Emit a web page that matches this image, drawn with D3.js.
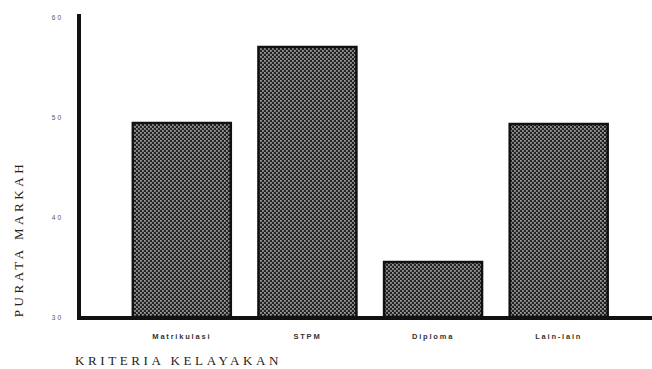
<!DOCTYPE html>
<html><head><meta charset="utf-8">
<script src="https://cdn.jsdelivr.net/npm/d3@7"></script>
<style>body{margin:0;background:#fff;}svg{display:block;}</style>
</head><body>
<script>
const categories = ["Matrikulasi", "STPM", "Diploma", "Lain-lain"];
const values = [49.4, 57.0, 35.5, 49.3];
const yTicks = [30, 40, 50, 60];
const yTitle = "PURATA MARKAH";
const xTitle = "KRITERIA KELAYAKAN";

const W = 652, H = 369;
const svg = d3.select("body").append("svg").attr("width", W).attr("height", H);

const defs = svg.append("defs");
const pat = defs.append("pattern").attr("id","dots").attr("patternUnits","userSpaceOnUse")
  .attr("width",4).attr("height",4);
pat.append("rect").attr("width",4).attr("height",4).attr("fill","#222");
pat.append("rect").attr("x",0).attr("y",0).attr("width",1.8).attr("height",1.8).attr("fill","#999");
pat.append("rect").attr("x",2).attr("y",2).attr("width",1.8).attr("height",1.8).attr("fill","#999");

const y = d3.scaleLinear().domain([30, 60]).range([317, 17]);
const x = d3.scaleBand().domain(categories).range([119, 621.5]).paddingInner(0.22).paddingOuter(0.11);

// bars
svg.selectAll("rect.bar").data(categories).join("rect")
  .attr("class","bar")
  .attr("x", d => x(d))
  .attr("y", (d,i) => y(values[i]))
  .attr("width", x.bandwidth())
  .attr("height", (d,i) => y(30) - y(values[i]))
  .attr("fill","url(#dots)")
  .attr("stroke","#111").attr("stroke-width",2.5);

// axes lines
svg.append("line").attr("x1",79).attr("x2",79).attr("y1",14).attr("y2",320)
  .attr("stroke","#111").attr("stroke-width",4);
svg.append("line").attr("x1",77).attr("x2",652).attr("y1",318).attr("y2",318)
  .attr("stroke","#111").attr("stroke-width",4);

// y tick labels
const yAxis = d3.axisLeft(y).tickValues(yTicks).tickSize(0).tickPadding(0);
const ga = svg.append("g").attr("transform","translate(63,0)").call(yAxis);
ga.select(".domain").remove();
ga.selectAll("text").attr("font-family","Liberation Sans, Arial, sans-serif")
  .attr("font-size",6.5).attr("letter-spacing","2px").attr("fill","#555");

// x category labels
const xAxis = d3.axisBottom(x).tickSize(0).tickPadding(0);
const gx = svg.append("g").attr("transform","translate(0,334)").call(xAxis);
gx.select(".domain").remove();
gx.selectAll("text").attr("font-family","Liberation Sans, Arial, sans-serif")
  .attr("font-size",7.5).attr("font-weight","bold").attr("fill","#333")
  .attr("letter-spacing","1.8px");

// titles
svg.append("text").attr("x",75).attr("y",365).text(xTitle)
  .attr("font-family","Liberation Serif, Times New Roman, serif")
  .attr("font-size",13).attr("letter-spacing","3.6px").attr("fill","#222");
svg.append("text").attr("transform","translate(23,239) rotate(-90)")
  .attr("text-anchor","middle").text(yTitle)
  .attr("font-family","Liberation Serif, Times New Roman, serif")
  .attr("font-size",13).attr("letter-spacing","3.6px").attr("fill","#222");
</script>
</body></html>
